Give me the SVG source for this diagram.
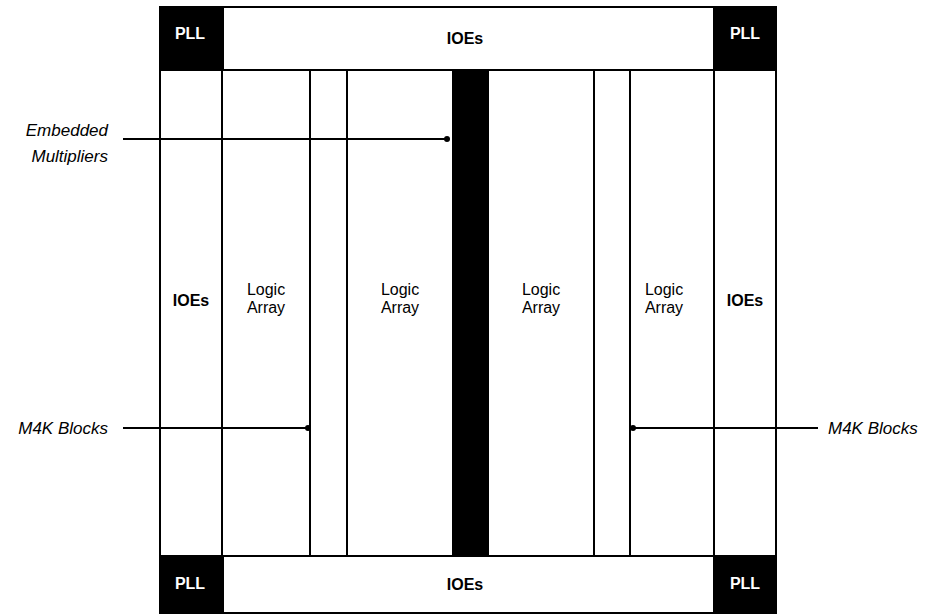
<svg xmlns="http://www.w3.org/2000/svg" width="930" height="616" viewBox="0 0 930 616">
<style>
.box{fill:#fff;stroke:#000;stroke-width:2}
.blk{fill:#000;stroke:#000;stroke-width:2}
.t{font-family:"Liberation Sans",Arial,sans-serif;font-size:16px;text-anchor:middle;fill:#000}
.b{font-weight:bold}
.w{fill:#fff}
.lbl{font-family:"Liberation Sans",Arial,sans-serif;font-size:17px;font-style:italic;fill:#000}
.ln{stroke:#000;stroke-width:2;fill:none}
</style>
<rect x="0" y="0" width="930" height="616" fill="#fff"/>
<g id="ioe-top"><rect class="box" x="222" y="7" width="492" height="63"/><text class="t b" x="465" y="44">IOEs</text></g>
<g id="ioe-bottom"><rect class="box" x="222" y="556" width="492" height="57"/><text class="t b" x="465" y="590">IOEs</text></g>
<g id="pll-tl"><rect class="blk" x="160" y="7" width="63" height="63"/><text class="t b w" x="190" y="39">PLL</text></g>
<g id="pll-tr"><rect class="blk" x="714" y="7" width="62" height="63"/><text class="t b w" x="745" y="39">PLL</text></g>
<g id="pll-bl"><rect class="blk" x="160" y="556" width="63" height="57"/><text class="t b w" x="190" y="589">PLL</text></g>
<g id="pll-br"><rect class="blk" x="714" y="556" width="62" height="57"/><text class="t b w" x="745" y="589">PLL</text></g>
<g id="ioe-left"><rect class="box" x="160" y="70" width="62" height="486"/><text class="t b" x="191" y="306">IOEs</text></g>
<g id="la1"><rect class="box" x="222" y="70" width="88" height="486"/><text class="t" x="266" y="295">Logic</text><text class="t" x="266" y="313">Array</text></g>
<g id="m4k-left"><rect class="box" x="310" y="70" width="37" height="486"/></g>
<g id="la2"><rect class="box" x="347" y="70" width="106" height="486"/><text class="t" x="400" y="295">Logic</text><text class="t" x="400" y="313">Array</text></g>
<g id="mult"><rect class="blk" x="453" y="70" width="35" height="486"/></g>
<g id="la3"><rect class="box" x="488" y="70" width="106" height="486"/><text class="t" x="541" y="295">Logic</text><text class="t" x="541" y="313">Array</text></g>
<g id="m4k-right"><rect class="box" x="594" y="70" width="36" height="486"/></g>
<g id="la4"><rect class="box" x="630" y="70" width="84" height="486"/><text class="t" x="664" y="295">Logic</text><text class="t" x="664" y="313">Array</text></g>
<g id="ioe-right"><rect class="box" x="714" y="70" width="62" height="486"/><text class="t b" x="745" y="306">IOEs</text></g>
<g id="connectors">
<line class="ln" x1="123" y1="139" x2="447" y2="139"/><circle cx="447" cy="139" r="3"/>
<line class="ln" x1="123" y1="428" x2="308" y2="428"/><circle cx="308" cy="428" r="3"/>
<line class="ln" x1="633" y1="428" x2="818" y2="428"/><circle cx="633" cy="428" r="3"/>
</g>
<g id="labels">
<text class="lbl" x="108" y="136" text-anchor="end">Embedded</text>
<text class="lbl" x="108" y="162" text-anchor="end">Multipliers</text>
<text class="lbl" x="108" y="434" text-anchor="end">M4K Blocks</text>
<text class="lbl" x="828" y="434">M4K Blocks</text>
</g>
</svg>
